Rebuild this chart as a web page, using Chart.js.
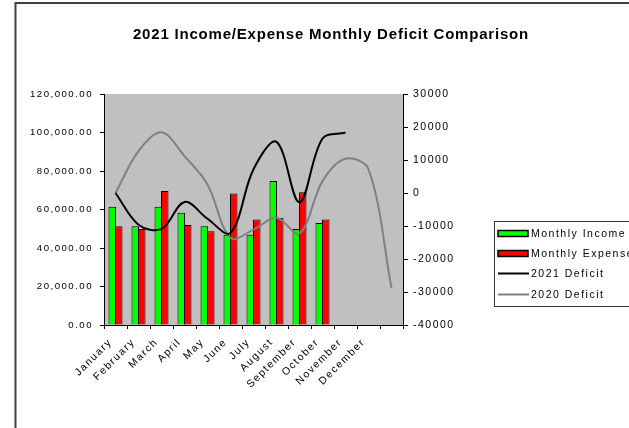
<!DOCTYPE html>
<html><head><meta charset="utf-8">
<script src="https://cdn.jsdelivr.net/npm/chart.js@4/dist/chart.umd.min.js"></script>
<style>html,body{margin:0;padding:0;background:#fff;overflow:hidden}#wrap{width:629px;height:428px;position:relative}</style>
</head><body><div id="wrap"><canvas id="c" width="629" height="428"></canvas></div>
<script>
const chartTitle = '2021 Income/Expense Monthly Deficit Comparison';
const categories = ['January','February','March','April','May','June','July','August','September','October','November','December',''];
const seriesNames = ['Monthly Income','Monthly Expense','2021 Deficit','2020 Deficit'];
const monthlyIncome  = [61400,51300,61400,58300,51300,46900,46900,74800,49900,53000];
const monthlyExpense = [51300,49900,69600,52000,48700,68300,54800,55700,69000,54800];
const deficit2021 = [0,-9600,-10900,-2700,-7800,-12100,7200,15500,-2800,16500,18300];
const deficit2020 = [0,12700,18400,11200,2600,-13600,-11100,-7500,-12300,3600,10400,7200,-28800];
const leftTickValues  = [0,20000,40000,60000,80000,100000,120000];
const rightTickValues = [-40000,-30000,-20000,-10000,0,10000,20000,30000];

const FONT = "'Liberation Sans', Arial, sans-serif";

const bgPlugin = {
  id: 'bgPlugin',
  beforeDraw(chart) {
    const ctx = chart.ctx, a = chart.chartArea;
    ctx.save();
    ctx.fillStyle = '#fff';
    ctx.fillRect(0, 0, chart.width, chart.height);
    ctx.fillStyle = '#c0c0c0';
    ctx.fillRect(a.left, a.top, a.right - a.left, a.bottom - a.top);
    ctx.strokeStyle = '#404040';
    ctx.lineWidth = 2;
    ctx.strokeRect(15.5, 3, 700, 600);
    ctx.restore();
    ctx.letterSpacing = '1.5px';
  },
  afterDraw(chart) {
    const ctx = chart.ctx;
    ctx.save();
    // title
    ctx.letterSpacing = '0.8px';
    ctx.font = 'bold 15px ' + FONT;
    ctx.fillStyle = '#000';
    ctx.textAlign = 'center';
    ctx.textBaseline = 'middle';
    ctx.fillText(chartTitle, 331, 35);
    // legend
    ctx.letterSpacing = '1.5px';
    ctx.strokeStyle = '#333';
    ctx.lineWidth = 1;
    ctx.strokeRect(494.5, 221.5, 200, 85);
    ctx.font = '10.5px ' + FONT;
    ctx.textAlign = 'left';
    const rows = [233.5, 253.5, 273.5, 294.5];
    chart.data.datasets.forEach((ds, i) => {
      const y = rows[i];
      if (ds.type === 'bar') {
        ctx.fillStyle = ds.backgroundColor;
        ctx.fillRect(498, y - 3, 30, 6);
        ctx.strokeStyle = '#000';
        ctx.lineWidth = 1.5;
        ctx.strokeRect(498, y - 3, 30, 6);
      } else {
        ctx.strokeStyle = ds.borderColor;
        ctx.lineWidth = ds.borderWidth;
        ctx.beginPath(); ctx.moveTo(498, y); ctx.lineTo(529, y); ctx.stroke();
      }
      ctx.fillStyle = '#000';
      ctx.fillText(ds.label, 531, y + 0.5);
    });
    ctx.restore();
  }
};

new Chart(document.getElementById('c'), {
  data: {
    labels: categories,
    datasets: [
      { type: 'bar', label: seriesNames[0], data: monthlyIncome, backgroundColor: '#00ff00', borderColor: '#000', borderWidth: 1,
        categoryPercentage: 0.565, barPercentage: 1.154, yAxisID: 'y', order: 1 },
      { type: 'bar', label: seriesNames[1], data: monthlyExpense, backgroundColor: '#ff0000', borderColor: '#000', borderWidth: 1,
        categoryPercentage: 0.565, barPercentage: 1.154, yAxisID: 'y', order: 2 },
      { type: 'line', label: seriesNames[2], data: deficit2021, borderColor: '#000', borderWidth: 2, pointRadius: 0,
        tension: 0.35, fill: false, yAxisID: 'y1', order: 0 },
      { type: 'line', label: seriesNames[3], data: deficit2020, borderColor: '#808080', borderWidth: 2, pointRadius: 0,
        tension: 0.35, fill: false, yAxisID: 'y1', order: 0 }
    ]
  },
  options: {
    responsive: false, animation: false, devicePixelRatio: 1,
    layout: { padding: { top: 94, left: 0, right: 0, bottom: 0 } },
    plugins: { legend: { display: false }, title: { display: false }, tooltip: { enabled: false } },
    scales: {
      x: {
        type: 'category', offset: true,
        grid: { offset: true, drawOnChartArea: false, drawTicks: true, tickLength: 4, tickColor: '#000' },
        border: { display: true, color: '#000', width: 1 },
        ticks: { color: '#000', font: { family: FONT, size: 10.5 }, minRotation: 45, maxRotation: 45, autoSkip: false,
          padding: 7, labelOffset: -5 },
        afterFit(s) { s.height = 103; }
      },
      y: {
        position: 'left', min: 0, max: 120000,
        afterBuildTicks(s) { s.ticks = leftTickValues.map(v => ({ value: v })); },
        grid: { drawOnChartArea: false, drawTicks: true, tickLength: 4, tickColor: '#000' },
        border: { display: true, color: '#000', width: 1 },
        ticks: { color: '#000', font: { family: FONT, size: 9.6 }, padding: 7,
          callback: v => v.toLocaleString('en-US', { minimumFractionDigits: 2, maximumFractionDigits: 2 }) },
        afterFit(s) { s.width = 104; }
      },
      y1: {
        position: 'right', min: -40000, max: 30000,
        afterBuildTicks(s) { s.ticks = rightTickValues.map(v => ({ value: v })); },
        grid: { drawOnChartArea: false, drawTicks: true, tickLength: 5, tickColor: '#000' },
        border: { display: true, color: '#000', width: 1 },
        ticks: { color: '#000', font: { family: FONT, size: 10.5 }, padding: 5, callback: v => String(v) },
        afterFit(s) { s.width = 226; }
      }
    }
  },
  plugins: [bgPlugin]
});
</script>
</body></html>
